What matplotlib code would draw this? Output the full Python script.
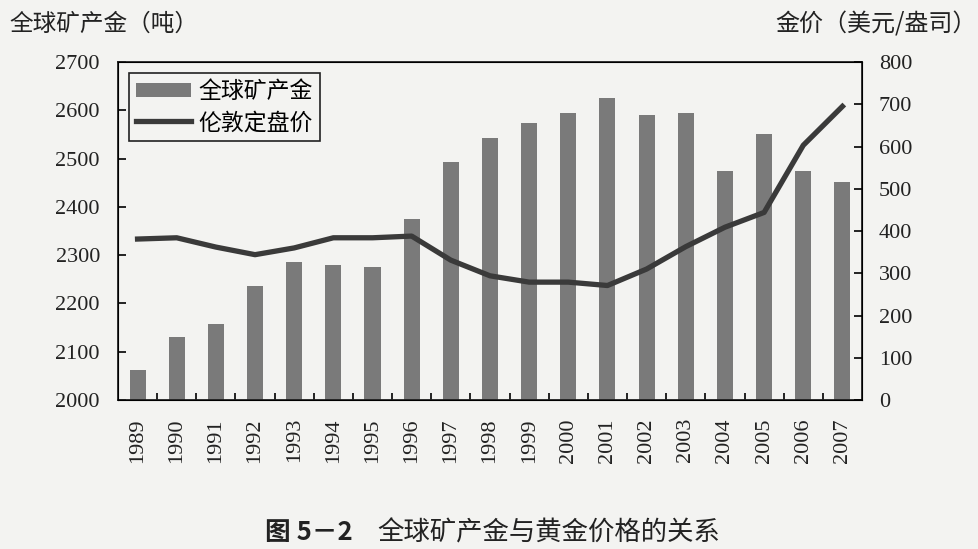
import matplotlib.pyplot as plt
import numpy as np

plt.rcParams['font.family'] = ['Noto Sans CJK SC', 'DejaVu Sans']

years = ['1989', '1990', '1991', '1992', '1993', '1994', '1995', '1996', '1997', '1998',
         '1999', '2000', '2001', '2002', '2003', '2004', '2005', '2006', '2007']
output = [2062, 2131, 2157, 2236, 2286, 2279, 2276, 2374, 2493, 2542,
          2573, 2594, 2626, 2590, 2594, 2475, 2551, 2475, 2452]
price = [381, 384, 362, 344, 360, 384, 384, 388, 331, 294,
         279, 279, 271, 310, 363, 409, 444, 603, 695]

paper = '#f3f3f1'
ink = '#222222'

fig = plt.figure(figsize=(9.79, 5.49), dpi=100, facecolor=paper)
ax = fig.add_axes([0.1205, 0.2714, 0.76, 0.6156])
ax.set_facecolor(paper)
x = np.arange(len(years))
bars = ax.bar(x, output, width=0.41, bottom=0, color='#7a7a7a', zorder=2)
ax.set_ylim(2000, 2700)
ax.set_xlim(-0.5, len(years) - 0.5)

ax.tick_params(axis='x', which='major', length=0, pad=13)
ax.tick_params(axis='x', which='minor', direction='in', length=5, width=1.2)
ax.tick_params(axis='y', direction='in', length=6, width=1.2, pad=13)
ax.set_yticks(range(2000, 2701, 100))
ax.set_xticks(x)
ax.set_xticks(np.arange(0.5, len(years) - 1, 1), minor=True)
ax.set_yticklabels([str(v) for v in range(2000, 2701, 100)])
ax.set_xticklabels(years, rotation=90)
for s in ax.spines.values():
    s.set_linewidth(1.3)
    s.set_color(ink)

ax2 = ax.twinx()
line, = ax2.plot(x, price, color='#3a3a3a', linewidth=3.8, zorder=3)
ax2.set_ylim(0, 800)
ax2.tick_params(axis='y', direction='in', length=6, width=1.2, pad=12)
ax2.set_yticks(range(0, 801, 100))
ax2.set_yticklabels([str(v) for v in range(0, 801, 100)])

for lab in ax.get_xticklabels() + ax.get_yticklabels() + ax2.get_yticklabels():
    lab.set_fontfamily('Liberation Serif')
    lab.set_fontsize(16)
    lab.set_color(ink)

leg = ax.legend([bars, line], ['全球矿产金', '伦敦定盘价'], loc='upper left',
                bbox_to_anchor=(0.0148, 0.967), fontsize=16.5, frameon=True, fancybox=False,
                edgecolor=ink, facecolor=paper, framealpha=1, borderpad=0.3,
                borderaxespad=0, handlelength=2.4, handletextpad=0.35, labelspacing=0.35,
                handleheight=0.6)
leg.get_frame().set_linewidth(1.2)
leg.set_zorder(5)

fig.text(0.01, 0.956, '全球矿产金（吨）', fontsize=17, ha='left', va='center', color=ink)
fig.text(0.998, 0.956, '金价（美元/盎司）', fontsize=17.3, ha='right', va='center', color=ink)
fig.text(0.271, 0.03, '图 5－2', fontsize=18.5, ha='left', va='center', color=ink,
         fontweight='bold')
fig.text(0.385, 0.03, '全球矿产金与黄金价格的关系', fontsize=19, ha='left', va='center',
         color=ink, fontweight='medium')

fig.savefig('out.png', dpi=100, facecolor=paper)
